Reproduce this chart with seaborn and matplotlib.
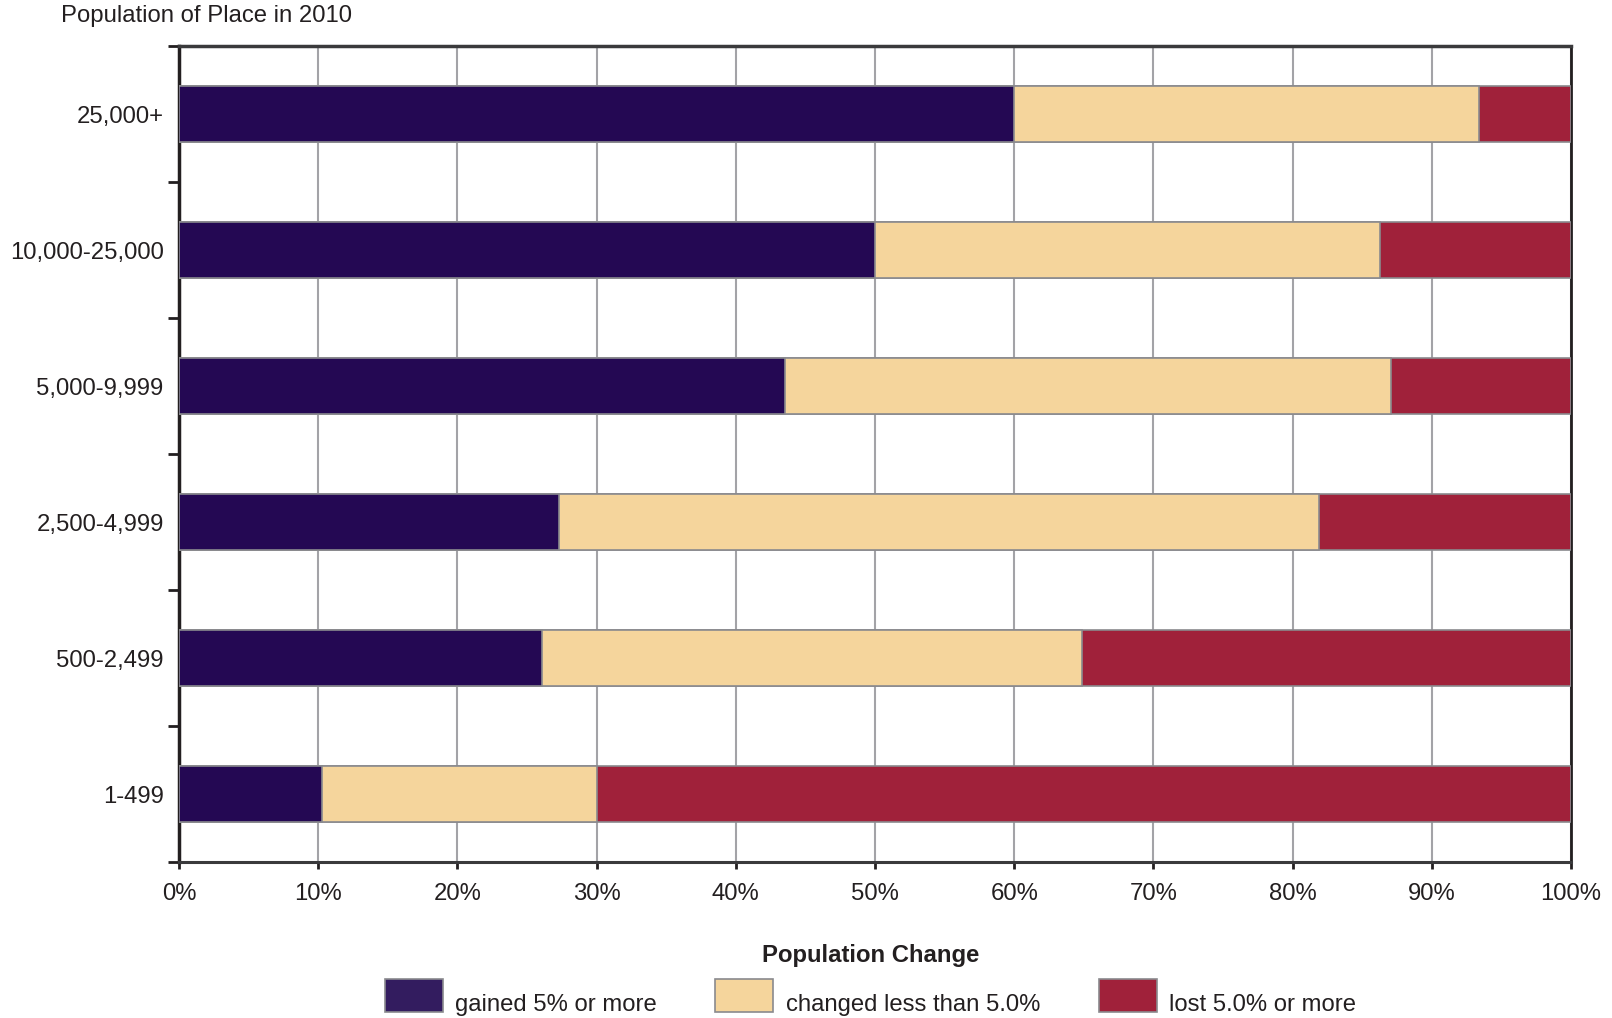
import numpy as np
import pandas as pd
import matplotlib
matplotlib.use("Agg")
import matplotlib.pyplot as plt
import matplotlib.transforms as mtransforms
import seaborn as sns
from matplotlib.patches import Patch

places = ["25,000+", "10,000-25,000", "5,000-9,999", "2,500-4,999", "500-2,499", "1-499"]
gained = [60.0, 50.0, 43.5, 27.3, 26.1, 10.3]
changed = [33.4, 36.3, 43.6, 54.6, 38.8, 19.7]
lost = [6.6, 13.7, 12.9, 18.1, 35.1, 70.0]
xticks = [0, 10, 20, 30, 40, 50, 60, 70, 80, 90, 100]
series_names = ["gained 5% or more", "changed less than 5.0%", "lost 5.0% or more"]
colors = ["#240853", "#F5D59C", "#A0213A"]
legend_colors = ["#331C5F", "#F5D59C", "#A0213A"]

sns.set_style("white")
plt.rcParams["font.family"] = ["Liberation Sans", "DejaVu Sans"]
fs = 17.2
plt.rcParams["font.size"] = fs

df = pd.DataFrame({"place": places, "gained": gained, "changed": changed, "lost": lost})
df["c_gained"] = df["gained"]
df["c_changed"] = df["gained"] + df["changed"]
df["c_lost"] = df["c_changed"] + df["lost"]

fig = plt.figure(figsize=(16.12, 10.18), dpi=100)
ax = fig.add_axes([0.111, 0.1532, 0.8636, 0.8016])

edge = "#8a8a8e"
for col, color in zip(["c_lost", "c_changed", "c_gained"], colors[::-1]):
    sns.barplot(data=df, x=col, y="place", orient="h", color=color, width=0.415,
                edgecolor=edge, linewidth=1.2, saturation=1, ax=ax, zorder=3)

ax.set_xlim(0, 100)
ax.set_ylim(len(places) - 0.5, -0.5)
ax.set_xticks(xticks)
ax.set_xticklabels([f"{t}%" for t in xticks])
ax.set_xlabel("")
ax.set_ylabel("")
ax.grid(axis="x", color="#a3a3a7", linewidth=1.5, zorder=0)
ax.grid(axis="y", visible=False)
ax.set_axisbelow(True)

ax.tick_params(axis="y", which="major", left=True, length=0, pad=11, labelsize=fs,
               labelcolor="#231f20")
ax.set_yticks(np.arange(len(places) + 1) - 0.5, minor=True)
ax.tick_params(axis="y", which="minor", left=True, length=8, width=2,
               color="#231f20", direction="out")
ax.tick_params(axis="x", bottom=True, length=5, width=2, color="#231f20",
               direction="out", pad=10, labelsize=fs, labelcolor="#231f20")

for side, lw, c in [("left", 2.5, "#231f20"), ("bottom", 2.2, "#3a3a3c"),
                    ("top", 2.5, "#3a3a3c"), ("right", 2, "#231f20")]:
    ax.spines[side].set_visible(True)
    ax.spines[side].set_linewidth(lw)
    ax.spines[side].set_color(c)

fig.text(0.038, 0.984, "Population of Place in 2010", ha="left", va="center",
         fontsize=fs, color="#231f20")

handles = [Patch(facecolor=c, edgecolor="#8a8a8e", linewidth=1.2) for c in legend_colors]
leg = fig.legend(handles, series_names, loc="center", bbox_to_anchor=(0.54, 0.039),
                 ncol=3, frameon=False, title="Population Change",
                 handlelength=2.43, handleheight=1.75, handletextpad=0.52,
                 columnspacing=2.45, fontsize=fs,
                 title_fontproperties={"weight": "bold", "size": fs})
leg.get_title().set_color("#231f20")
for t in leg.get_texts():
    t.set_color("#231f20")
    t.set_transform(t.get_transform() + mtransforms.Affine2D().translate(0, -7))

fig.savefig("out.png", dpi=100)
